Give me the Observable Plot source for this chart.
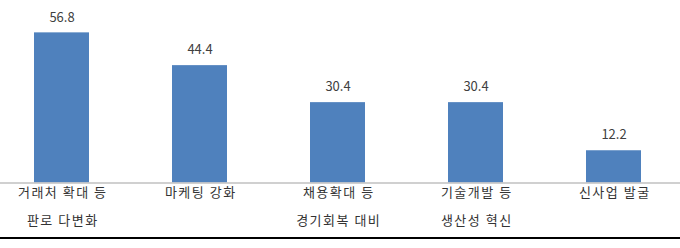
<!DOCTYPE html>
<html>
<head>
<meta charset="utf-8">
<script src="https://cdn.jsdelivr.net/npm/d3@7"></script>
<script src="https://cdn.jsdelivr.net/npm/@observablehq/plot@0.6"></script>
<style>
  html, body { margin: 0; padding: 0; background: #fff; }
  #chart { width: 680px; height: 248px; }
</style>
</head>
<body>
<div id="chart"></div>
<script>
// Survey responses (%)
const categories = ["거래처 확대 등\n판로 다변화", "마케팅 강화", "채용확대 등\n경기회복 대비", "기술개발 등\n생산성 혁신", "신사업 발굴"];
const values = [56.8, 44.4, 30.4, 30.4, 12.2];
const valueLabels = ["56.8", "44.4", "30.4", "30.4", "12.2"];

const rows = categories.map((c, i) => ({category: c, value: values[i], label: valueLabels[i]}));

const font = "'Noto Sans CJK KR', 'Noto Sans', sans-serif";

const chart = Plot.plot({
  width: 680,
  height: 248,
  marginTop: 0,
  marginLeft: 0,
  marginRight: 0,
  marginBottom: 10.5,
  style: {fontFamily: font, background: "#fff"},
  x: {domain: categories, range: [-49, 724], padding: 0.6, axis: null},
  y: {domain: [0, 60], range: [182.5, 23.9], axis: null},
  marks: [
    Plot.barY(rows, {x: "category", y: "value", fill: "#4f81bd"}),
    Plot.ruleY([0], {stroke: "#c0c0c0", strokeWidth: 1.5}),
    Plot.text(rows, {x: "category", y: "value", text: "label", dy: -15.5, fontSize: 13, fill: "#404040"}),
    Plot.text(rows, {x: "category", y: 0, text: "category", lineAnchor: "top", dy: -6, dx: 0.75, lineHeight: 2.15, fontSize: 13, fill: "#333"}),
    Plot.frame({anchor: "bottom", stroke: "#000", strokeWidth: 2})
  ]
});

// Category labels are set with a little extra tracking
const textGroups = chart.querySelectorAll("g[aria-label='text']");
const categoryGroup = textGroups[textGroups.length - 1];
if (categoryGroup) categoryGroup.style.letterSpacing = "1.5px";

document.getElementById("chart").appendChild(chart);
</script>
</body>
</html>
